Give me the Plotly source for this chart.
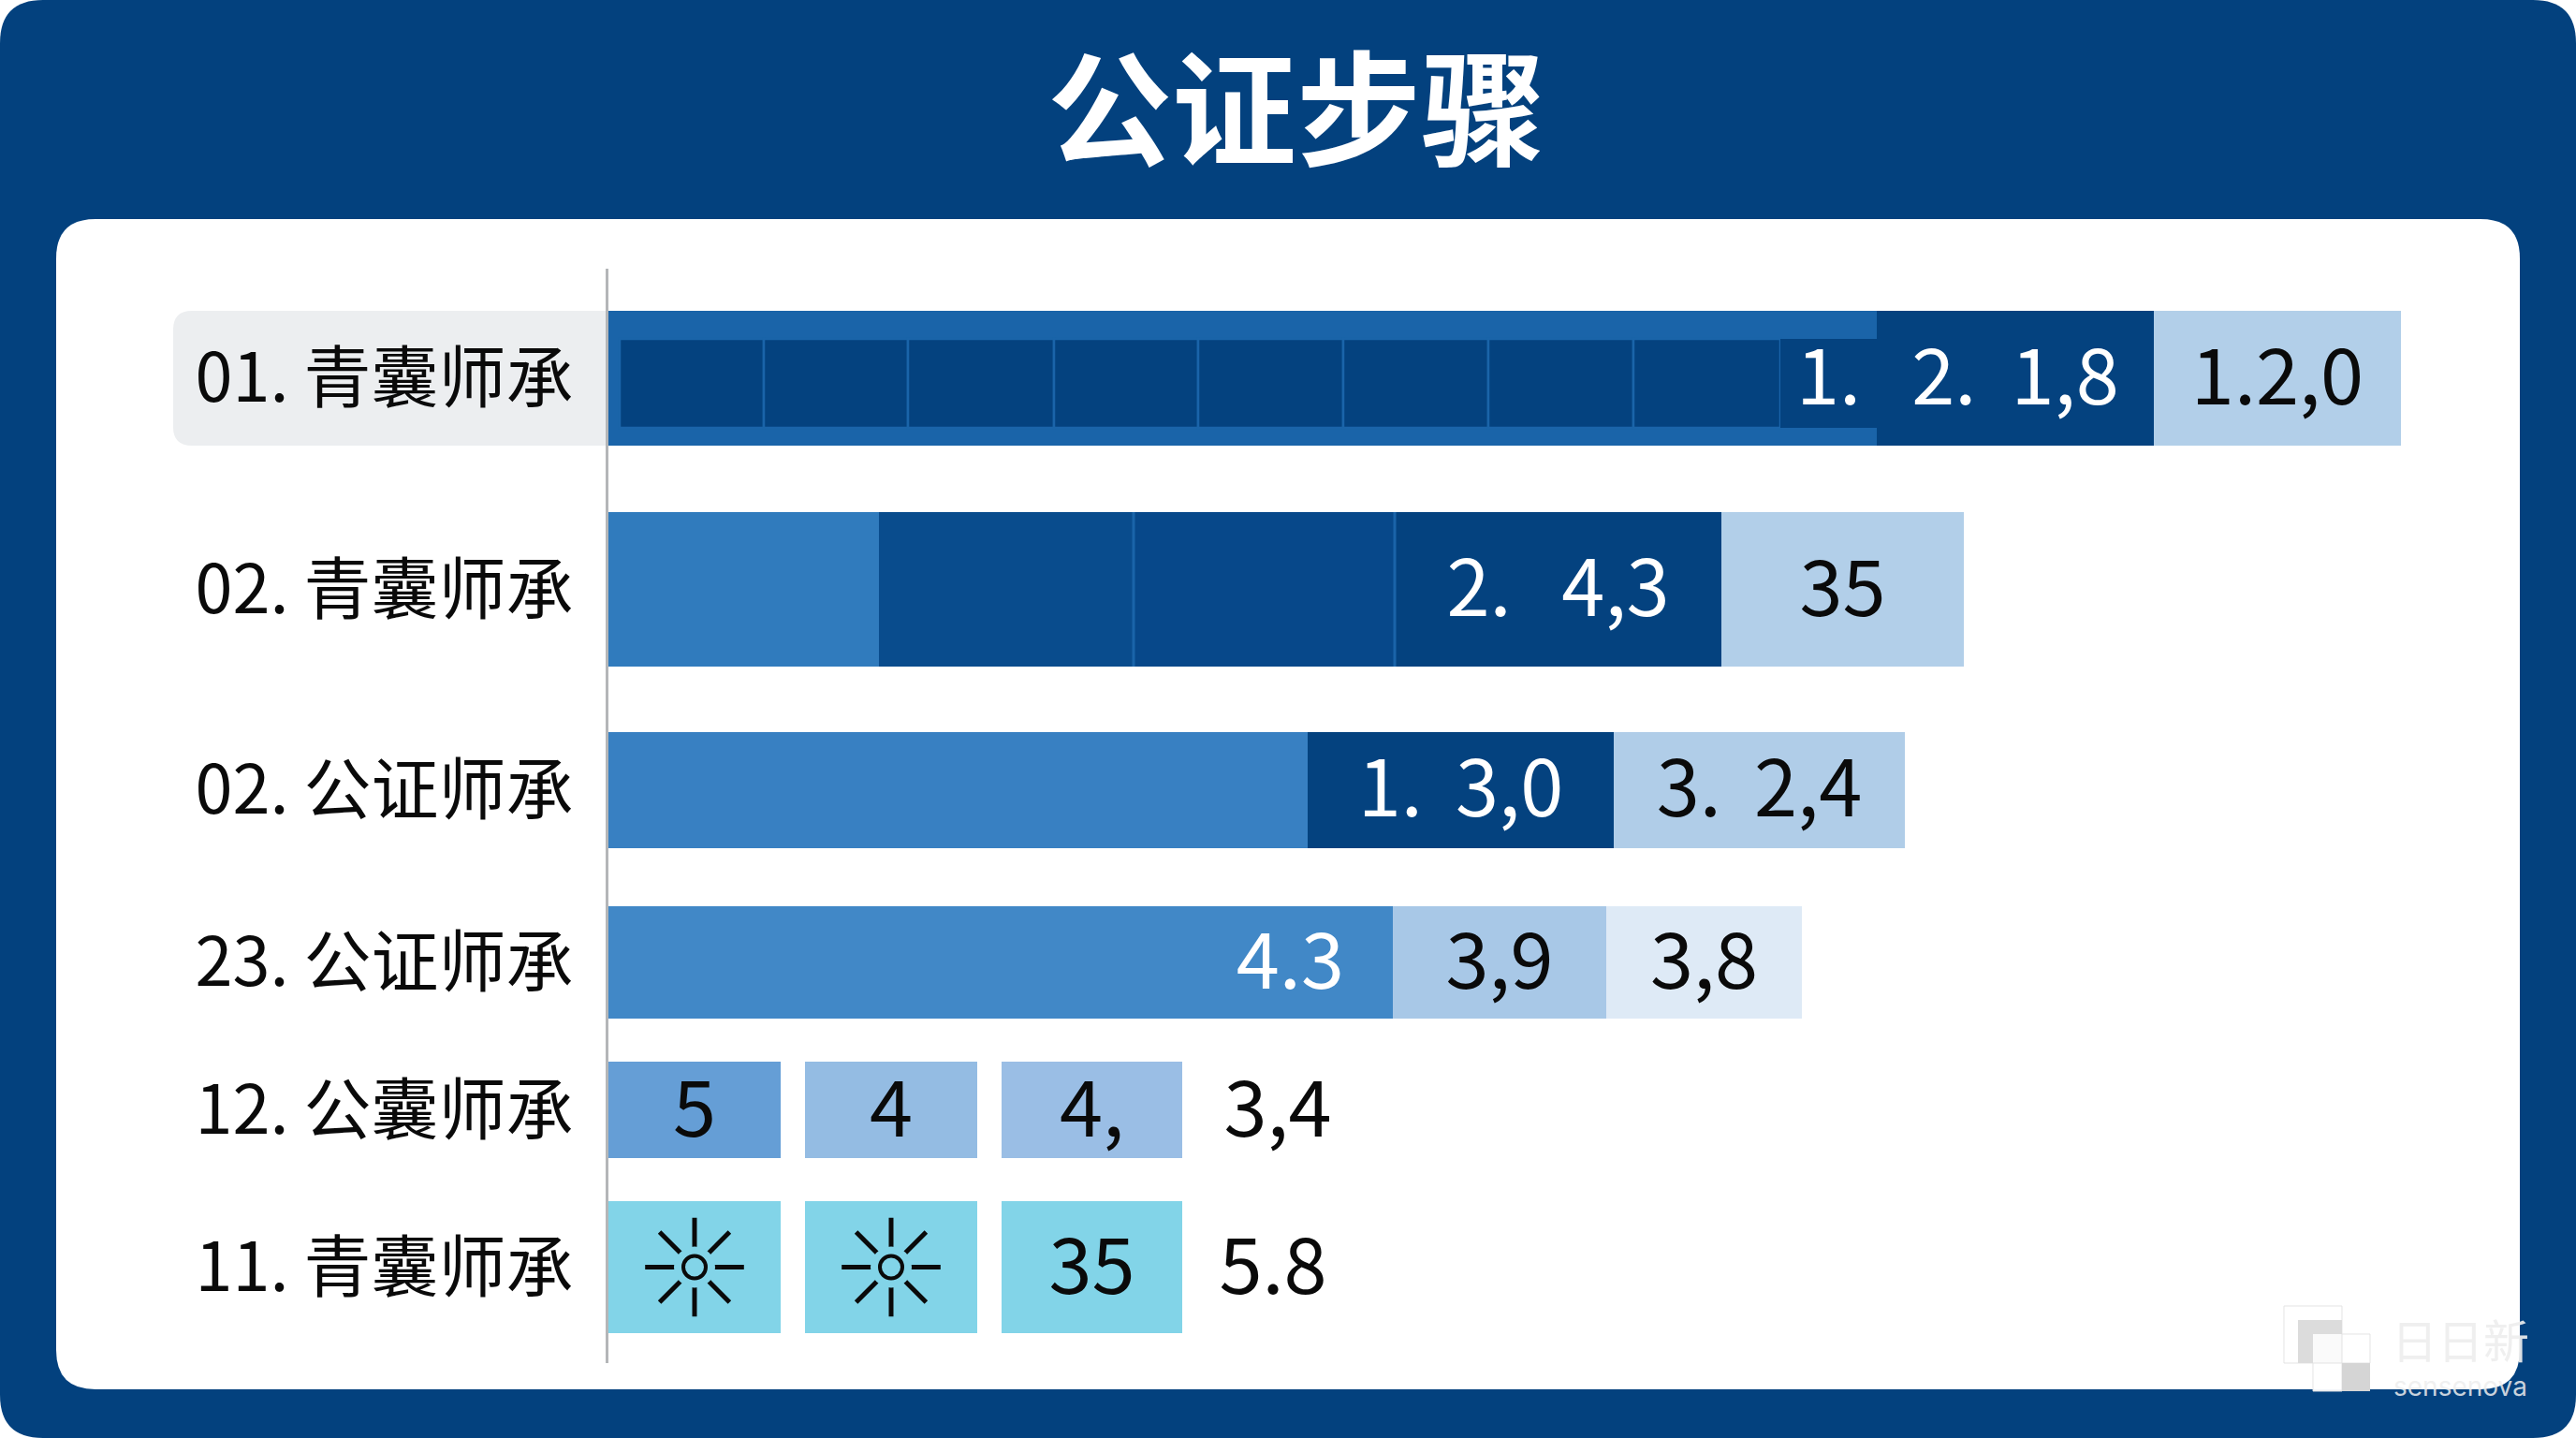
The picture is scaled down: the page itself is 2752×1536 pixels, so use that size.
import plotly.graph_objects as go
import numpy as np

# ---- data (x unit: bar length) ----
title = "公证步骤"
row_labels = ["01. 青囊师承", "02. 青囊师承", "02. 公证师承", "23. 公证师承", "12. 公囊师承", "11. 青囊师承"]

row1_values = [13.55, 2.96, 2.64]
row1_texts = ["", "2.\u00a0\u00a01,8", "1.2,0"]
row1_cells = [1.54, 1.54, 1.56, 1.54, 1.55, 1.55, 1.55, 1.57, 1.03]
row1_cell_texts = ["", "", "", "", "", "", "", "", "1."]
row1_cell_start = 0.12

row2_values = [2.89, 2.72, 2.79, 3.49, 2.59]
row2_texts = ["", "", "", "2.\u00a0\u00a0\u20094,3", "35"]

row3_values = [7.47, 3.27, 3.11]
row3_texts = ["", "1.\u00a0\u20093,0", "3.\u00a0\u20092,4"]

row4_values = [8.38, 2.28, 2.09]
row4_texts = ["", "3,9", "3,8"]
row4_end_text = "4.3"

row5_values = [1.84, 0.26, 1.84, 0.26, 1.93, 2.04]
row5_texts = ["5", "", "4", "", "4,", "3,4"]

row6_values = [1.84, 0.26, 1.84, 0.26, 1.93, 1.94]
row6_texts = ["", "", "", "", "35", "5.8"]

# ---- layout constants ----
W, H = 2752, 1536
PL, PT, PB = 650, 287, 80          # plot area in page pixels
PW, PH = W - PL, H - PT - PB
ROW_Y = [1.17, 3.425, 5.57, 7.41, 8.985, 10.665]
ROW_H = [1.44, 1.65, 1.24, 1.20, 1.03, 1.41]
CELL_H = 0.95
CELL_DY = 0.055
TEXT_DY = 0.075
NAVY = "#03417e"
DARK = "#04427f"
MID = "#1a64a9"
LIGHT = "#b2cfe9"
CYAN = "#82d4e8"
NONE = "rgba(0,0,0,0)"
FONT = "Noto Sans CJK SC"
BAR_FONT = 83
WHITE, BLACK = "#ffffff", "#0a0a0a"


def px(x):
    return (x - PL) / PW


def py(y):
    return 1 - (y - PT) / PH


def rounded(x0, y0, x1, y1, rtl, rtr, rbr, rbl):
    pts = [
        f"M{px(x0 + rtl)},{py(y0)}",
        f"L{px(x1 - rtr)},{py(y0)}",
        f"Q{px(x1)},{py(y0)} {px(x1)},{py(y0 + rtr)}",
        f"L{px(x1)},{py(y1 - rbr)}",
        f"Q{px(x1)},{py(y1)} {px(x1 - rbr)},{py(y1)}",
        f"L{px(x0 + rbl)},{py(y1)}",
        f"Q{px(x0)},{py(y1)} {px(x0)},{py(y1 - rbl)}",
        f"L{px(x0)},{py(y0 + rtl)}",
        f"Q{px(x0)},{py(y0)} {px(x0 + rtl)},{py(y0)}",
        "Z",
    ]
    return " ".join(pts)


label_x, label_y, label_t, label_c = [], [], [], []


def add_row(fig, values, texts, colors, text_colors, y, h, start=0.0, line_colors=None, line_widths=None, text_y=None):
    v = np.array(values, dtype=float)
    base = start + np.concatenate([[0], np.cumsum(v)[:-1]])
    fig.add_trace(go.Bar(
        y=[y] * len(v), x=v, base=base, width=h, orientation="h",
        marker=dict(color=colors,
                    line=dict(color=line_colors or NONE, width=line_widths if line_widths is not None else 0)),
        hoverinfo="skip", showlegend=False,
    ))
    for b, val, t, c in zip(base, v, texts, text_colors):
        if t:
            label_x.append(b + val / 2)
            label_y.append((text_y if text_y is not None else y) + TEXT_DY)
            label_t.append(t)
            label_c.append(c)
    return base


fig = go.Figure()

add_row(fig, row1_values, row1_texts, [MID, DARK, LIGHT], [WHITE, WHITE, BLACK], ROW_Y[0], ROW_H[0])
add_row(fig, row1_cells, row1_cell_texts, [DARK] * 9, [WHITE] * 9, ROW_Y[0] + CELL_DY, CELL_H,
        start=row1_cell_start, line_colors=MID, line_widths=[2.5] * 8 + [0], text_y=ROW_Y[0])
base2 = add_row(fig, row2_values, row2_texts, ["#307bbd", "#094c8d", "#07488a", DARK, LIGHT],
                [WHITE, WHITE, WHITE, WHITE, BLACK], ROW_Y[1], ROW_H[1])
add_row(fig, row3_values, row3_texts, ["#3880c2", DARK, "#b0cde8"], [WHITE, WHITE, BLACK], ROW_Y[2], ROW_H[2])
add_row(fig, row4_values, row4_texts, ["#4188c7", "#a8c8e7", "#deeaf6"], [WHITE, BLACK, BLACK], ROW_Y[3], ROW_H[3])
add_row(fig, row5_values, row5_texts, ["#659ed6", NONE, "#94bce3", NONE, "#9abee5", NONE],
        [BLACK] * 6, ROW_Y[4], ROW_H[4])
base6 = add_row(fig, row6_values, row6_texts, [CYAN, NONE, CYAN, NONE, CYAN, NONE],
                [BLACK] * 6, ROW_Y[5], ROW_H[5])

# centred value labels
fig.add_trace(go.Scatter(
    x=label_x, y=label_y, mode="text", text=label_t, textposition="middle center", cliponaxis=False,
    textfont=dict(family=FONT, size=BAR_FONT, color=label_c), hoverinfo="skip", showlegend=False,
))

# "4.3" sits near the end of its segment
fig.add_trace(go.Scatter(
    x=[row4_values[0] - 0.52], y=[ROW_Y[3] + TEXT_DY], mode="text", text=[row4_end_text],
    textposition="middle left", cliponaxis=False,
    textfont=dict(family=FONT, size=BAR_FONT, color=WHITE), hoverinfo="skip", showlegend=False,
))

# sun icons in the two first cells of the last row
sun_x = [base6[0] + row6_values[0] / 2, base6[2] + row6_values[2] / 2]
sun_y = [ROW_Y[5], ROW_Y[5]]
fig.add_trace(go.Scatter(x=sun_x, y=sun_y, mode="markers", hoverinfo="skip", showlegend=False,
                         marker=dict(symbol="asterisk-open", size=88, color=BLACK, line=dict(color=BLACK, width=5))))
fig.add_trace(go.Scatter(x=sun_x, y=sun_y, mode="markers", hoverinfo="skip", showlegend=False,
                         marker=dict(symbol="circle", size=44, color=CYAN, line=dict(width=0))))
fig.add_trace(go.Scatter(x=sun_x, y=sun_y, mode="markers", hoverinfo="skip", showlegend=False,
                         marker=dict(symbol="circle-open", size=24, color=BLACK, line=dict(color=BLACK, width=4))))

shapes = [
    dict(type="path", xref="paper", yref="paper", layer="below", path=rounded(0, 0, W, H, 46, 46, 46, 46),
         fillcolor=NAVY, line=dict(width=0)),
    dict(type="path", xref="paper", yref="paper", layer="below", path=rounded(60, 234, 2692, 1484, 42, 42, 42, 42),
         fillcolor="#ffffff", line=dict(width=0)),
    dict(type="path", xref="paper", yref="paper", layer="below", path=rounded(185, 332, 649, 476, 20, 0, 0, 20),
         fillcolor="#eceef0", line=dict(width=0)),
]
# separators inside the second bar
for b in (base2[2], base2[3]):
    shapes.append(dict(type="line", xref="x", yref="y", layer="above",
                       x0=b, x1=b, y0=ROW_Y[1] - ROW_H[1] / 2, y1=ROW_Y[1] + ROW_H[1] / 2,
                       line=dict(color=MID, width=3)))


# watermark
def logo_rect(x0, y0, x1, y1, fill, edge="rgba(225,225,225,0.9)"):
    return dict(type="rect", xref="paper", yref="paper", layer="above",
                x0=px(x0), x1=px(x1), y0=py(y1), y1=py(y0), fillcolor=fill, line=dict(color=edge, width=1))


shapes += [
    logo_rect(2440, 1395, 2502, 1456, "rgba(255,255,255,0.95)"),
    logo_rect(2455, 1410, 2502, 1456, "#dcdcdc", "rgba(0,0,0,0)"),
    logo_rect(2471, 1425, 2502, 1456, "#fafafa", "rgba(0,0,0,0)"),
    logo_rect(2502, 1425, 2532, 1456, "rgba(255,255,255,0.95)"),
    logo_rect(2471, 1456, 2502, 1486, "rgba(255,255,255,0.95)"),
    logo_rect(2502, 1456, 2532, 1486, "#d5d5d5", "rgba(0,0,0,0)"),
]

annotations = [
    dict(text="日日新", xref="paper", yref="paper", x=px(2628), y=py(1429), showarrow=False,
         font=dict(family=FONT, size=49, color="rgba(238,238,238,0.92)"), xanchor="center", yanchor="middle"),
    dict(text="sensenova", xref="paper", yref="paper", x=px(2628), y=py(1481), showarrow=False,
         font=dict(family="Inter", size=28, color="rgba(238,238,238,0.85)"), xanchor="center", yanchor="middle"),
]

fig.update_layout(
    width=W, height=H, autosize=False,
    barmode="overlay",
    margin=dict(l=PL, r=0, t=PT, b=PB, pad=0),
    paper_bgcolor="#ffffff", plot_bgcolor="rgba(0,0,0,0)",
    showlegend=False, shapes=shapes, annotations=annotations,
    title=dict(text=title, x=1385 / W, xref="container", y=1 - 120 / H, yref="container",
               xanchor="center", yanchor="middle", automargin=False,
               font=dict(family=FONT, size=133, color="#ffffff", weight=700)),
    xaxis=dict(range=[0, PW / 100], visible=False, fixedrange=True),
    yaxis=dict(range=[PH / 100, 0], tickmode="array", tickvals=ROW_Y, ticktext=row_labels,
               tickfont=dict(family=FONT, size=72, color="#0a0a0a"), ticks="",
               ticklabelstandoff=20, showgrid=False, zeroline=False,
               showline=True, linecolor="#b4b6b8", linewidth=3, fixedrange=True),
)

fig.write_html("out.html", config=dict(displayModeBar=False),
               post_script="document.body.style.margin='0';document.body.style.overflow='hidden';")
